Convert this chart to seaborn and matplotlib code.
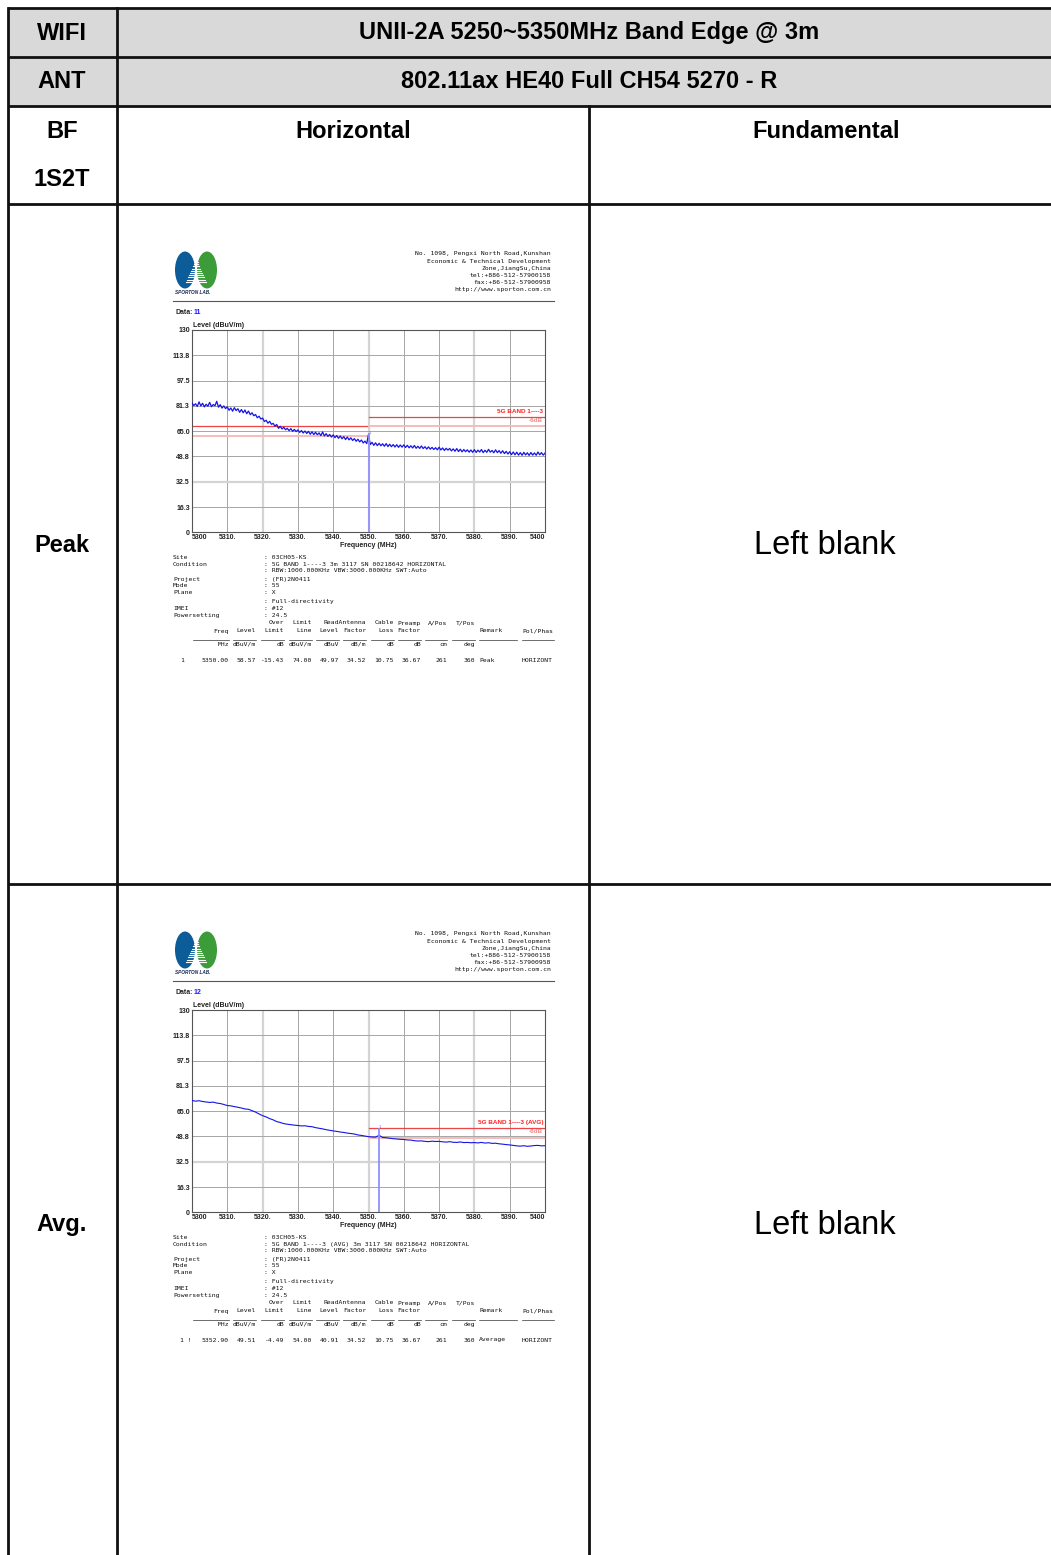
import numpy as np
import pandas as pd
import matplotlib
matplotlib.use("Agg")
import matplotlib.pyplot as plt
from matplotlib.patches import Ellipse, Rectangle
import seaborn as sns

W, H = 1051, 1555

# ---------------- table texts
title_band = "UNII-2A 5250~5350MHz Band Edge @ 3m"
title_mode = "802.11ax HE40 Full CH54 5270 - R"
row_labels = ["Peak", "Avg."]
blank_text = "Left blank"

# ---------------- spectrum data
freq_peak = np.arange(5300.0, 5400.01, 0.5)
peak_level = [
    83.1, 81.4, 82.6, 80.9, 83.8, 81.2, 82.9, 80.6, 82.3, 81.0, 83.5, 80.7, 82.1, 81.3, 84.2, 80.4, 82.0, 79.8, 81.2, 79.5,
    80.6, 78.4, 79.9, 77.8, 80.1, 78.2, 79.4, 77.1, 78.9, 76.8, 78.6, 76.2, 77.9, 75.6, 76.8, 74.9, 75.7, 73.6, 74.6, 72.8,
    73.4, 71.2, 72.0, 70.1, 71.3, 69.4, 70.0, 68.2, 69.3, 66.8, 68.1, 66.4, 67.5, 65.9, 66.8, 65.3, 66.6, 64.9, 66.1, 64.7,
    65.8, 64.2, 65.4, 63.8, 65.1, 63.5, 64.9, 63.0, 64.6, 62.8, 64.3, 62.7, 63.9, 62.1, 64.5, 61.9, 63.4, 61.6, 62.9, 61.2,
    62.6, 60.8, 62.2, 60.4, 61.9, 60.1, 61.5, 59.6, 61.2, 59.4, 60.7, 59.0, 60.2, 58.5, 59.8, 58.1, 59.3, 57.4, 58.6, 57.0,
    62.9, 56.4, 57.8, 55.9, 57.5, 55.7, 57.2, 55.6, 56.9, 55.3, 57.0, 55.1, 56.6, 55.0, 56.4, 54.8, 56.3, 54.6, 56.1, 54.7,
    56.2, 54.5, 55.9, 54.3, 55.6, 54.2, 55.8, 54.0, 55.3, 53.9, 55.5, 53.8, 55.0, 53.5, 54.9, 53.4, 54.6, 53.2, 54.4, 53.0,
    54.7, 52.9, 54.2, 52.6, 54.0, 52.8, 53.9, 52.3, 53.6, 52.1, 53.8, 51.9, 53.4, 51.7, 53.2, 51.8, 53.0, 51.5, 52.9, 51.4,
    53.1, 51.3, 52.8, 51.6, 53.2, 51.2, 52.7, 51.4, 53.3, 51.5, 52.6, 51.1, 53.0, 51.2, 52.5, 50.8, 52.4, 50.6, 52.0, 50.3,
    51.8, 49.9, 51.6, 49.8, 51.5, 49.6, 51.2, 49.5, 51.4, 49.7, 51.1, 49.4, 51.3, 49.6, 51.0, 49.5, 51.6, 49.8, 51.2, 49.6,
    50.9,
]
freq_avg = np.arange(5300.0, 5400.01, 1.0)
avg_level = [
    71.9, 71.4, 71.7, 71.2, 70.9, 70.6, 70.8, 70.2, 69.9, 69.3,
    68.6, 68.4, 67.9, 67.5, 67.0, 66.4, 66.2, 65.3, 64.4, 63.2,
    62.1, 61.3, 60.2, 59.4, 58.3, 57.7, 57.0, 56.6, 56.3, 56.0,
    55.8, 55.5, 55.6, 55.2, 55.0, 54.4, 54.0, 53.6, 53.1, 52.7,
    52.3, 52.0, 51.6, 51.3, 50.9, 50.6, 50.3, 49.7, 49.4, 49.0,
    48.6, 48.4, 48.3, 49.5, 48.1, 47.9, 47.6, 47.3, 47.1, 46.9,
    46.8, 46.5, 46.4, 46.0, 45.8, 45.9, 45.6, 45.4, 45.7, 45.5,
    45.6, 45.3, 45.1, 45.4, 45.0, 44.9, 45.2, 44.8, 44.9, 44.7,
    44.8, 44.6, 44.9, 44.5, 44.7, 44.3, 44.4, 44.0, 43.8, 43.5,
    43.3, 43.0, 42.7, 42.5, 42.8, 42.4, 42.6, 42.9, 43.0, 42.7,
    42.8,
]

# limit lines: (f_start, f_stop, limit, limit-6dB)
peak_limits = [(5300, 5350, 68.2, 62.2), (5350, 5400, 74.0, 68.0)]
avg_limits = [(5350, 5400, 54.0, 48.0)]
peak_marker = (5350.0, 62.9)
avg_marker = (5352.9, 53.8)

y_ticks = [0, 16.25, 32.5, 48.75, 65, 81.25, 97.5, 113.75, 130]
y_tick_labels = ["0", "16.3", "32.5", "48.8", "65.0", "81.3", "97.5", "113.8", "130"]
x_ticks = [5300, 5310, 5320, 5330, 5340, 5350, 5360, 5370, 5380, 5390, 5400]
x_tick_labels = ["5300", "5310.", "5320.", "5330.", "5340.", "5350.", "5360.", "5370.",
                 "5380.", "5390.", "5400"]

address = ["No. 1098, Pengxi North Road,Kunshan", "Economic & Technical Development",
           "Zone,JiangSu,China", "tel:+886-512-57900158", "fax:+86-512-57900958",
           "http://www.sporton.com.cn"]

info_labels = ["Site", "Condition", "", "Project", "Mode", "Plane", "", "IMEI", "Powersetting"]
peak_info = ["03CH05-KS", "5G BAND 1----3 3m 3117 SN 00218642 HORIZONTAL",
             "RBW:1000.000KHz VBW:3000.000KHz SWT:Auto", "(FR)2N0411", "55", "X",
             "Full-directivity", "#12", "24.5"]
avg_info = ["03CH05-KS", "5G BAND 1----3 (AVG) 3m 3117 SN 00218642 HORIZONTAL",
            "RBW:1000.000KHz VBW:3000.000KHz SWT:Auto", "(FR)2N0411", "55", "X",
            "Full-directivity", "#12", "24.5"]

col_head1 = ["", "", "Over", "Limit", "", "ReadAntenna", "Cable", "Preamp", "A/Pos", "T/Pos"]
col_head2 = ["Freq", "Level", "Limit", "Line", "Level", "Factor", "Loss", "Factor", "", ""]
col_units = ["MHz", "dBuV/m", "dB", "dBuV/m", "dBuV", "dB/m", "dB", "dB", "cm", "deg"]
peak_row = ["5350.00", "58.57", "-15.43", "74.00", "49.97", "34.52", "10.75", "36.67", "261", "360"]
avg_row = ["5352.90", "49.51", "-4.49", "54.00", "40.91", "34.52", "10.75", "36.67", "261", "360"]

fig = plt.figure(figsize=(W / 100, H / 100), dpi=100)
bg = fig.add_axes([0, 0, 1, 1])
bg.set_xlim(0, W)
bg.set_ylim(H, 0)
bg.axis("off")

# ---------------- table frame
bg.add_patch(Rectangle((8, 8), W, 98, facecolor="#d9d9d9", edgecolor="none"))
lc = "#111111"
for y in [8, 57, 106, 204, 884]:
    bg.plot([8, W], [y, y], color=lc, lw=2.0, solid_capstyle="butt")
bg.plot([8, 8], [8, H], color=lc, lw=2.0)
bg.plot([117, 117], [8, H], color=lc, lw=2.0)
bg.plot([589, 589], [106, H], color=lc, lw=2.0)

bold = dict(family="Liberation Sans", fontweight="bold", fontsize=17, ha="center", va="center")
bg.text(62, 33, "WIFI", **bold)
bg.text(62, 82, "ANT", **bold)
bg.text(62, 132, "BF", **bold)
bg.text(62, 180, "1S2T", **bold)
bg.text(589.5, 33, title_band, **bold)
bg.text(589.5, 82, title_mode, **bold)
bg.text(353, 132, "Horizontal", **bold)
bg.text(826, 132, "Fundamental", **bold)
for i, lab in enumerate(row_labels):
    yc = 545 + 680 * i
    bg.text(62, yc, lab, **bold)
    bg.text(825, yc, blank_text, family="Liberation Sans", fontsize=23.5,
            ha="center", va="center")

mono = dict(family="DejaVu Sans Mono", fontsize=4.6, color="#111111")
small_bold = dict(family="Liberation Sans", fontweight="bold", fontsize=5.0, color="#222222")
col_right = [229, 256, 284, 312, 339, 366, 394, 421, 447, 475]


def draw_report(dy, data_no, freq, level, limits, marker, band_label, info, row,
                remark, flag, lw):
    # logo
    bg.add_patch(Ellipse((185, 270 + dy), 20, 37, facecolor="#0b5c98", edgecolor="none"))
    bg.add_patch(Ellipse((207, 270 + dy), 20, 37, facecolor="#3c9c3a", edgecolor="none"))
    for k, yy in enumerate(np.arange(262, 284, 2.2)):
        half = 1.5 + k * 0.9
        bg.plot([196 - half, 196 + half], [yy + dy, yy + dy], color="white", lw=0.8)
    bg.text(175, 292.5 + dy, "SPORTON LAB.", family="Liberation Sans", fontweight="bold",
            fontstyle="italic", fontsize=3.4, color="#1a2a50", va="center")
    for k, line in enumerate(address):
        bg.text(551, 254 + 7.2 * k + dy, line, ha="right", va="center", **mono)
    bg.plot([173, 554], [301 + dy, 301 + dy], color="#555555", lw=0.8)
    bg.text(175, 312.5 + dy, "Data:", va="center", **small_bold)
    bg.text(194, 312.5 + dy, data_no, family="Liberation Sans", fontweight="bold",
            fontsize=5.0, color="#1a1aff", va="center")

    # chart
    x0, y0, x1, y1 = 192, 330 + dy, 545, 532.3 + dy
    ax = fig.add_axes([x0 / W, 1 - y1 / H, (x1 - x0) / W, (y1 - y0) / H])
    ax.set_facecolor("white")
    for f in x_ticks[1:-1]:
        if f in (5320, 5350, 5380):
            ax.axvline(f, color="#d4d4d4", lw=1.6, zorder=0)
        else:
            ax.axvline(f, color="#a6a6a6", lw=0.7, zorder=0)
    for v in y_ticks[1:-1]:
        if v == 32.5:
            ax.axhline(v, color="#d4d4d4", lw=1.6, zorder=0)
        else:
            ax.axhline(v, color="#a6a6a6", lw=0.7, zorder=0)
    for fa, fb, lim, lim6 in limits:
        ax.plot([fa, fb], [lim6, lim6], color="#f6bcbc", lw=1.4, zorder=2)
        ax.plot([fa, fb], [lim, lim], color="#ee4444", lw=0.9, zorder=2)
    top = max(l[2] for l in limits if l[1] == 5400)
    ax.text(5399.5, top + 2.2, band_label, ha="right", va="bottom", color="#ff2222",
            family="Liberation Sans", fontweight="bold", fontsize=4.6)
    ax.text(5399.5, top - 3.6, "-6dB", ha="right", va="bottom", color="#f08a8a",
            family="Liberation Sans", fontweight="bold", fontsize=4.6)
    df = pd.DataFrame({"Frequency": freq, "Level": level})
    sns.lineplot(data=df, x="Frequency", y="Level", ax=ax, color="#1414e6", lw=lw,
                 zorder=3, estimator=None)
    ax.plot([marker[0], marker[0]], [0, marker[1]], color="#8f8fff", lw=1.3, zorder=4)
    ax.text(marker[0] + 0.3, marker[1] - 0.5, "1", color="#7070ff", fontsize=3,
            ha="center", va="bottom")
    ax.set_xlim(5300, 5400)
    ax.set_ylim(0, 130)
    ax.set_xticks(x_ticks)
    ax.set_xticklabels(x_tick_labels)
    ax.set_yticks(y_ticks)
    ax.set_yticklabels(y_tick_labels)
    ax.tick_params(length=0, pad=1.5, labelsize=5.0, labelcolor="#222222")
    for t in ax.get_xticklabels() + ax.get_yticklabels():
        t.set_family("Liberation Sans")
        t.set_fontweight("bold")
    xl = ax.get_xticklabels()
    xl[0].set_ha("left")
    xl[-1].set_ha("right")
    ax.set_xlabel("Frequency (MHz)", family="Liberation Sans", fontweight="bold",
                  fontsize=5.0, labelpad=0.5, color="#222222")
    ax.set_ylabel("")
    ax.text(0.002, 1.005, "Level (dBuV/m)", transform=ax.transAxes, ha="left",
            va="bottom", **small_bold)
    for s in ax.spines.values():
        s.set_color("#555555")
        s.set_linewidth(0.8)

    # info block
    ys = [557.5, 564.5, 571, 579, 585.5, 592, 601, 608, 615.5]
    for lab, val, yy in zip(info_labels, info, ys):
        if lab:
            bg.text(173, yy + dy, lab, va="center", **mono)
        bg.text(264, yy + dy, ": " + val, va="center", **mono)
    for h1, h2, un, val, xr in zip(col_head1, col_head2, col_units, row, col_right):
        if h1:
            bg.text(xr, 623 + dy, h1, ha="right", va="center", **mono)
        if h2:
            bg.text(xr, 631 + dy, h2, ha="right", va="center", **mono)
        bg.text(xr, 644.5 + dy, un, ha="right", va="center", **mono)
        bg.text(xr, 660 + dy, val, ha="right", va="center", **mono)
    bg.text(479, 631 + dy, "Remark", va="center", **mono)
    bg.text(522, 631 + dy, "Pol/Phas", va="center", **mono)
    seg_left = [193, 233, 261, 289, 316, 343, 371, 398, 425, 452, 479, 522]
    seg_right = col_right + [517, 554]
    for a, b in zip(seg_left, seg_right):
        bg.plot([a, b], [639.5 + dy, 639.5 + dy], color="#333333", lw=0.5)
    bg.text(180, 660 + dy, flag, va="center", **mono)
    bg.text(479, 660 + dy, remark, va="center", **mono)
    bg.text(522, 660 + dy, "HORIZONT", va="center", **mono)


draw_report(0, "11", freq_peak, peak_level, peak_limits, peak_marker,
            "5G BAND 1----3", peak_info, peak_row, "Peak", "1", 0.9)
draw_report(680, "12", freq_avg, avg_level, avg_limits, avg_marker,
            "5G BAND 1----3 (AVG)", avg_info, avg_row, "Average", "1 !", 0.8)

fig.savefig("out.png", dpi=100)
